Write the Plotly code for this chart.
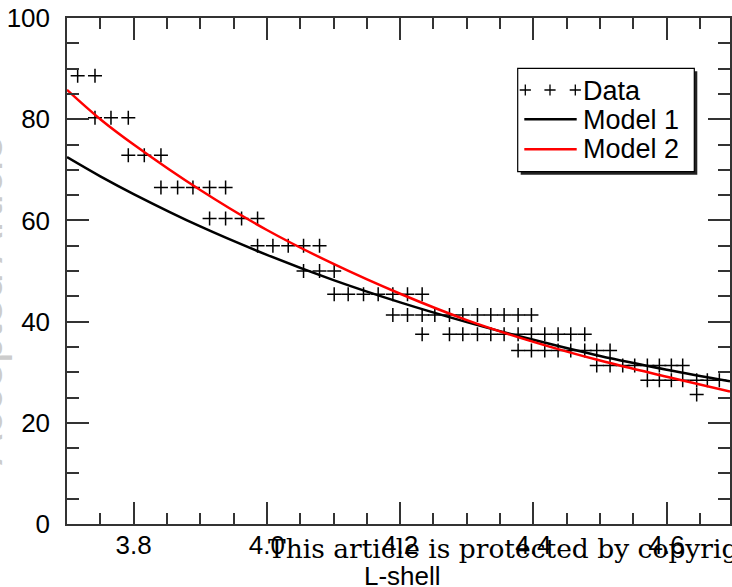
import plotly.graph_objects as go

# Binned observations: L-shell value and flux level of each point
data_l = [
    3.716, 3.742,
    3.742, 3.766, 3.792,
    3.792, 3.816, 3.841,
    3.841, 3.866, 3.889, 3.914, 3.938,
    3.914, 3.938, 3.962, 3.986,
    3.986, 4.009, 4.032, 4.055, 4.079,
    4.055, 4.079, 4.101,
    4.101, 4.122, 4.145, 4.167, 4.189, 4.211, 4.233,
    4.189, 4.211, 4.233, 4.252, 4.274, 4.294, 4.316, 4.336, 4.356, 4.377, 4.397,
    4.233, 4.274, 4.294, 4.316, 4.336, 4.356, 4.377, 4.397, 4.417, 4.437, 4.456, 4.477,
    4.377, 4.397, 4.417, 4.437, 4.456, 4.477, 4.495, 4.515,
    4.495, 4.515, 4.534, 4.552, 4.571, 4.589, 4.607, 4.624,
    4.571, 4.589, 4.607, 4.624, 4.645, 4.661, 4.679,
    4.645,
]
data_flux = [
    88.6, 88.6,
    80.3, 80.3, 80.3,
    72.9, 72.9, 72.9,
    66.5, 66.5, 66.5, 66.5, 66.5,
    60.4, 60.4, 60.4, 60.4,
    55.0, 55.0, 55.0, 55.0, 55.0,
    50.0, 50.0, 50.0,
    45.4, 45.4, 45.4, 45.4, 45.4, 45.4, 45.4,
    41.3, 41.3, 41.3, 41.3, 41.3, 41.3, 41.3, 41.3, 41.3, 41.3, 41.3,
    37.5, 37.5, 37.5, 37.5, 37.5, 37.5, 37.5, 37.5, 37.5, 37.5, 37.5, 37.5,
    34.3, 34.3, 34.3, 34.3, 34.3, 34.3, 34.3, 34.3,
    31.3, 31.3, 31.3, 31.3, 31.3, 31.3, 31.3, 31.3,
    28.4, 28.4, 28.4, 28.4, 28.4, 28.4, 28.4,
    25.6,
]

# Model curves sampled along L
model_l = [3.70, 3.75, 3.80, 3.90, 4.00, 4.10, 4.20, 4.30, 4.40, 4.50, 4.60, 4.695]
model1 = [72.5, 68.7, 65.2, 58.8, 53.2, 48.2, 43.8, 39.9, 36.4, 33.2, 30.5, 28.2]
model2 = [85.8, 80.0, 75.0, 66.0, 58.1, 51.4, 45.5, 40.3, 36.0, 32.3, 29.1, 26.2]

legend_names = ["Data", "Model 1", "Model 2"]
x_ticks = [3.8, 4.0, 4.2, 4.4, 4.6]
y_ticks = [0, 20, 40, 60, 80, 100]
x_title = "L-shell"

W, H = 732, 587
ML, MR, MT, MB = 67, 2, 18, 63
PW, PH = W - ML - MR, H - MT - MB

FONT = "Liberation Sans, Arial, Helvetica, sans-serif"
AX = "#333333"


def fx(px):
    return (px - ML) / PW


def fy(py):
    return (MT + PH - py) / PH


fig = go.Figure()

fig.add_trace(go.Scatter(
    x=data_l, y=data_flux, mode="markers", name=legend_names[0],
    marker=dict(symbol="cross-thin", size=10, line=dict(color="black", width=1.5)),
    showlegend=False,
))
fig.add_trace(go.Scatter(
    x=model_l, y=model1, mode="lines", name=legend_names[1], line_shape="spline",
    line=dict(color="black", width=2.5), showlegend=False,
))
fig.add_trace(go.Scatter(
    x=model_l, y=model2, mode="lines", name=legend_names[2], line_shape="spline",
    line=dict(color="#ff0000", width=2.5), showlegend=False,
))

# Hand-drawn legend box in plot-fraction coordinates
box = dict(x0=fx(517.7), x1=fx(694.3), y0=fy(171.7), y1=fy(68.3))
shadow_off_x, shadow_off_y = 3 / PW, 3 / PH
shapes = [
    dict(type="rect", xref="paper", yref="paper",
         x0=box["x0"] + shadow_off_x, x1=box["x1"] + shadow_off_x,
         y0=box["y0"] - shadow_off_y, y1=box["y1"] - shadow_off_y,
         fillcolor="#222222", line=dict(width=0), layer="below"),
    dict(type="rect", xref="paper", yref="paper", **box,
         fillcolor="white", line=dict(color="black", width=1.2), layer="below"),
    dict(type="line", xref="paper", yref="paper",
         x0=fx(524.3), x1=fx(576.7), y0=fy(119.3), y1=fy(119.3),
         line=dict(color="black", width=2.5), layer="above"),
    dict(type="line", xref="paper", yref="paper",
         x0=fx(524.3), x1=fx(576.7), y0=fy(149.3), y1=fy(149.3),
         line=dict(color="#ff0000", width=2.5), layer="above"),
]

# legend "+ + +" sample on an overlay axis pair spanning the plot area
fig.add_trace(go.Scatter(
    x=[fx(525.3), fx(550.0), fx(575.3)], y=[fy(90.0)] * 3,
    xaxis="x2", yaxis="y2", mode="markers", showlegend=False, hoverinfo="skip",
    marker=dict(symbol="cross-thin", size=8, line=dict(color="black", width=1.3)),
))

annotations = []
for name, py in zip(legend_names, [90.8, 120.0, 149.3]):
    annotations.append(dict(
        text=name, xref="paper", yref="paper", x=fx(581), y=fy(py),
        xanchor="left", yanchor="middle", showarrow=False,
        font=dict(family=FONT, size=27, color="black"),
    ))

annotations.append(dict(
    text=x_title, xref="paper", yref="paper", x=fx(402), y=fy(576),
    xanchor="center", yanchor="middle", showarrow=False,
    font=dict(family=FONT, size=26, color="black"),
))
annotations.append(dict(
    text="This article is protected by copyright. All rights reserved.",
    xref="paper", yref="paper", x=fx(266), y=fy(548),
    xanchor="left", yanchor="middle", showarrow=False,
    font=dict(family="DejaVu Serif, Liberation Serif, serif", size=26.5, color="black"),
))
annotations.append(dict(
    text="Accepted Article",
    xref="paper", yref="paper", x=fx(-14), y=fy(300),
    xanchor="center", yanchor="middle", showarrow=False, textangle=-90,
    font=dict(family=FONT, size=46, color="#cccccc"),
))

axis_common = dict(
    showline=True, linecolor=AX, linewidth=1.5, mirror="allticks",
    ticks="inside", tickcolor=AX, tickwidth=1.5,
    showgrid=False, zeroline=False, automargin=False,
    tickfont=dict(family=FONT, size=26, color="black"),
)

fig.update_layout(
    width=W, height=H,
    margin=dict(l=ML, r=MR, t=MT, b=MB, autoexpand=False),
    paper_bgcolor="white", plot_bgcolor="white",
    showlegend=False,
    xaxis=dict(
        range=[3.7, 4.695], tickvals=x_ticks, tickformat=".1f", ticklen=22,
        minor=dict(dtick=0.05, tick0=3.7, ticklen=11, tickwidth=1.5, tickcolor=AX, ticks="inside"),
        ticklabelstandoff=-3,
        **axis_common,
    ),
    yaxis=dict(
        range=[0, 100], tickvals=y_ticks, ticklen=22,
        minor=dict(dtick=5, tick0=0, ticklen=12, tickwidth=1.5, tickcolor=AX, ticks="inside"),
        ticklabelstandoff=10,
        **axis_common,
    ),
    xaxis2=dict(range=[0, 1], overlaying="x", visible=False, anchor="y2"),
    yaxis2=dict(range=[0, 1], overlaying="y", visible=False, anchor="x2"),
    shapes=shapes,
    annotations=annotations,
)

fig.write_html("out.html")
